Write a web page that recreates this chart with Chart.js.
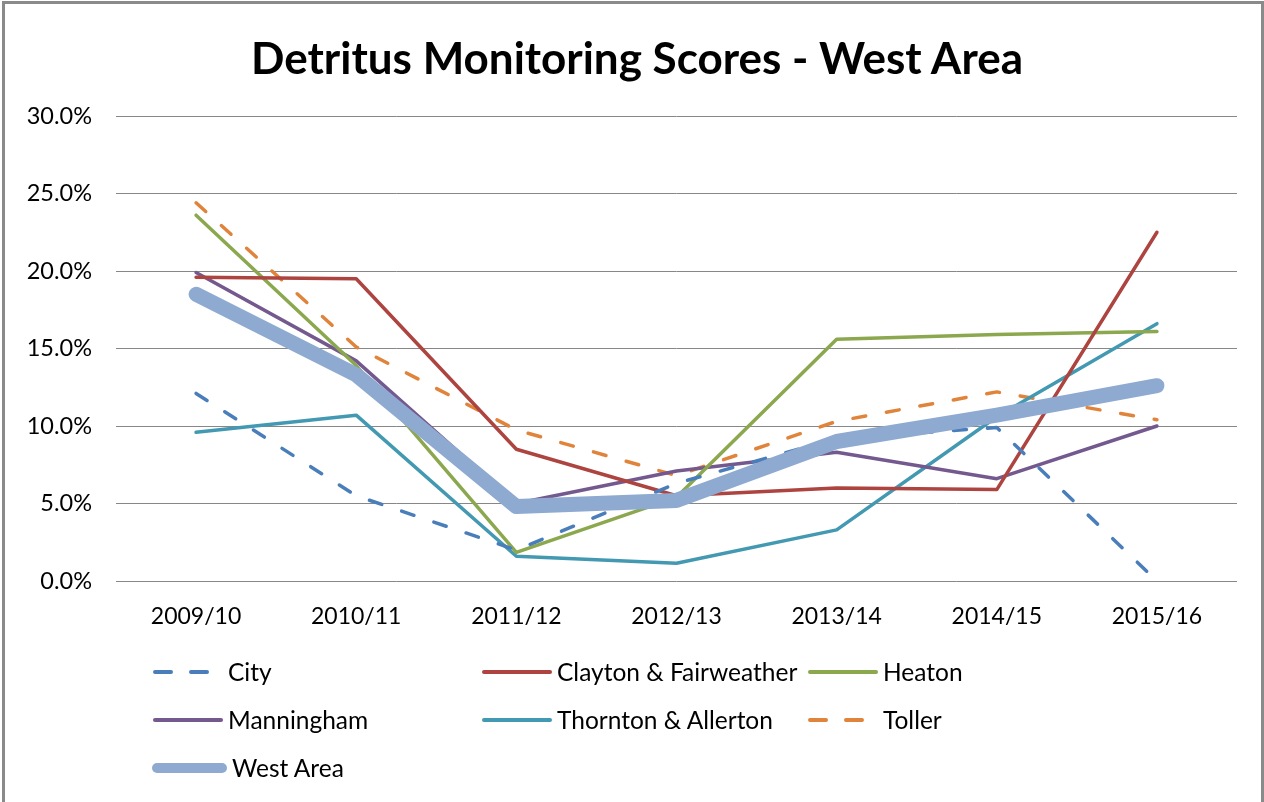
<!DOCTYPE html>
<html>
<head>
<meta charset="utf-8">
<script src="https://cdn.jsdelivr.net/npm/chart.js@4.4.1/dist/chart.umd.min.js"></script>
<style>
  body { margin: 0; background: #fff; overflow: hidden; }
  #wrap { position: relative; width: 1264px; height: 802px; }
  #frame { position: absolute; left: 2px; top: 1px; width: 1256px; height: 900px; border: 3px solid #8a8a8a; }
  #title { position: absolute; left: 10px; top: 31px; width: 1254px; height: 53px; line-height: 53px; text-align: center;
           font-family: Lato, "Open Sans", sans-serif; font-weight: bold; font-size: 44px; color: #000; }
  #legend { position: absolute; left: 0; top: 0; width: 1264px; height: 802px; pointer-events: none;
            font-family: Lato, "Open Sans", sans-serif; font-size: 24.5px; color: #000; }
  .item { position: absolute; height: 30px; line-height: 30px; white-space: nowrap; }
  .item svg { position: absolute; left: 0; top: 0; }
  .item span { position: absolute; top: 0; }
</style>
</head>
<body>
<div id="wrap">
  <canvas id="chart1" width="1264" height="802"></canvas>
  <div id="frame"></div>
  <div id="title">Detritus Monitoring Scores - West Area</div>
  <div id="legend"></div>
</div>
<script>
// data (percent)
var years = ['2009/10', '2010/11', '2011/12', '2012/13', '2013/14', '2014/15', '2015/16']
var city = [12.1, 5.5, 2.0, 6.3, 9.2, 9.9, 0.0]
var clayton = [19.6, 19.5, 8.5, 5.5, 6.0, 5.9, 22.5]
var heaton = [23.6, 13.9, 1.85, 5.4, 15.6, 15.9, 16.1]
var manningham = [19.9, 14.2, 5.0, 7.1, 8.3, 6.6, 10.0]
var thornton = [9.6, 10.7, 1.6, 1.15, 3.3, 10.6, 16.6]
var toller = [24.4, 15.1, 9.75, 6.8, 10.3, 12.2, 10.4]
var westArea = [18.5, 13.3, 4.8, 5.2, 9.0, 10.7, 12.6]

var seriesNames = ['City', 'Clayton & Fairweather', 'Heaton', 'Manningham', 'Thornton & Allerton', 'Toller', 'West Area']
var seriesData = [city, clayton, heaton, manningham, thornton, toller, westArea]
var colors = ['#4a7ebb', '#ad4440', '#8ba84f', '#74598f', '#4399b2', '#e0843b', '#8eaad1']
var widths = [3.5, 3.5, 3.5, 3.5, 3.5, 3.5, 15]
var dashes = [[13, 21], [], [], [], [], [13, 21], []]
var orders = [1, 2, 3, 4, 5, 6, 0]

var datasets = []
for (var i = 0; i < seriesNames.length; i++) {
  datasets.push({
    label: seriesNames[i],
    data: seriesData[i],
    borderColor: colors[i],
    backgroundColor: colors[i],
    borderWidth: widths[i],
    borderDash: dashes[i],
    borderCapStyle: 'round',
    borderJoinStyle: 'round',
    pointRadius: 0,
    tension: 0,
    fill: false,
    order: orders[i]
  })
}

new Chart(document.getElementById('chart1'), {
  type: 'line',
  data: { labels: years, datasets: datasets },
  options: {
    responsive: false,
    animation: false,
    devicePixelRatio: 1,
    // top padding leaves room for the html title
    layout: { padding: { left: 0, right: 27, top: 116, bottom: 0 } },
    plugins: {
      legend: { display: false },
      tooltip: { enabled: false },
      title: { display: false }
    },
    scales: {
      x: {
        offset: true,
        grid: { display: false, drawTicks: false },
        border: { display: false },
        ticks: { color: '#000', padding: 22, maxRotation: 0, font: { family: 'Lato', size: 23 } },
        afterFit: function (s) { s.height = 221 }
      },
      y: {
        min: 0,
        max: 30,
        grid: { color: '#878787', lineWidth: 1, drawTicks: false },
        border: { display: false },
        ticks: {
          stepSize: 5,
          color: '#000',
          padding: 24,
          font: { family: 'Lato', size: 23.5 },
          callback: function (v) { return v.toFixed(1) + '%' }
        },
        afterFit: function (s) { s.width = 116 }
      }
    }
  }
})

// legend, laid out in three columns like the original
var legendPos = [
  [153, 672], [482, 672], [808, 672],
  [153, 720], [482, 720], [808, 720],
  [152, 768]
]
var legend = document.getElementById('legend')
for (var j = 0; j < seriesNames.length; j++) {
  var item = document.createElement('div')
  item.className = 'item'
  item.style.left = legendPos[j][0] + 'px'
  item.style.top = (legendPos[j][1] - 15) + 'px'
  var lw = j == 6 ? 10 : 4
  var len = j == 6 ? 75 : 70
  var dashAttr = dashes[j].length ? ' stroke-dasharray="16 20"' : ''
  item.innerHTML = '<svg width="' + (len + 10) + '" height="30"><line x1="' + (lw / 2) + '" y1="15" x2="' + (len - lw / 2) +
    '" y2="15" stroke="' + colors[j] + '" stroke-width="' + lw + '" stroke-linecap="round"' + dashAttr + '/></svg>' +
    '<span style="left:' + (len + 5) + 'px">' + seriesNames[j] + '</span>'
  legend.appendChild(item)
}
</script>
</body>
</html>
